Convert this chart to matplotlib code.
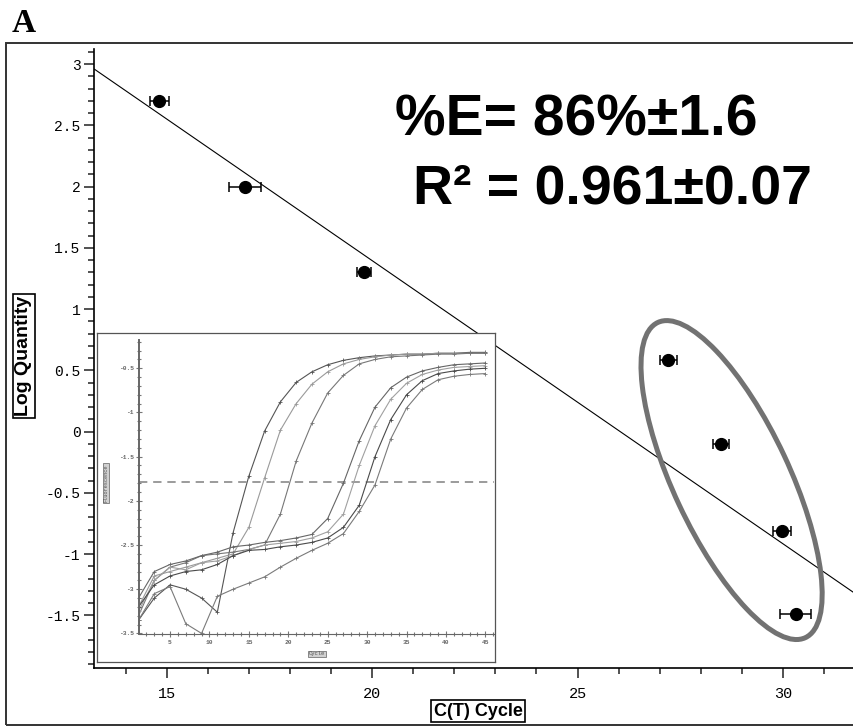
import numpy as np
import matplotlib
matplotlib.use("Agg")
import matplotlib.pyplot as plt
from matplotlib.patches import Ellipse, Rectangle
from matplotlib.transforms import ScaledTranslation
from matplotlib.ticker import MultipleLocator, FuncFormatter

# standard curve points (mean Ct, log quantity, Ct error)
ct_mean = [14.82, 16.91, 19.79, 27.21, 28.49, 29.98, 30.31]
log_qty = [2.70, 2.00, 1.30, 0.58, -0.10, -0.81, -1.49]
ct_err = [0.23, 0.385, 0.17, 0.21, 0.19, 0.21, 0.37]

# fitted line
fit_slope = -0.2311
fit_intercept = 6.017

# outlier group circled on the plot
circle_center = (28.75, -0.396)

# inset amplification curves (log fluorescence at odd cycles)
cycles = np.arange(1, 46, 2)
amp_e1 = [-3.35, -3.10, -2.95, -3.00, -3.10, -3.26, -2.36, -1.72, -1.21, -0.88, -0.66, -0.54,
          -0.46, -0.41, -0.38, -0.36, -0.35, -0.34, -0.34, -0.33, -0.33, -0.32, -0.32]
amp_e2 = [-3.20, -2.85, -2.80, -2.75, -2.70, -2.65, -2.60, -2.30, -1.74, -1.20, -0.90, -0.68,
          -0.54, -0.45, -0.40, -0.37, -0.35, -0.34, -0.34, -0.33, -0.33, -0.33, -0.33]
amp_e3 = [-3.30, -2.90, -2.75, -2.70, -2.62, -2.60, -2.58, -2.55, -2.50, -2.15, -1.55, -1.12,
          -0.78, -0.58, -0.45, -0.40, -0.37, -0.36, -0.35, -0.34, -0.34, -0.33, -0.33]
amp_l1 = [-3.10, -2.80, -2.72, -2.68, -2.62, -2.58, -2.52, -2.50, -2.47, -2.45, -2.42, -2.38,
          -2.20, -1.80, -1.32, -0.94, -0.72, -0.60, -0.53, -0.49, -0.46, -0.45, -0.44]
amp_l2 = [-3.25, -2.90, -2.75, -2.78, -2.70, -2.68, -2.62, -2.55, -2.50, -2.48, -2.46, -2.42,
          -2.35, -2.15, -1.60, -1.15, -0.85, -0.67, -0.57, -0.52, -0.49, -0.48, -0.47]
amp_l3 = [-3.20, -2.95, -2.85, -2.80, -2.78, -2.72, -2.62, -2.56, -2.55, -2.52, -2.50, -2.47,
          -2.42, -2.30, -2.05, -1.50, -1.08, -0.80, -0.64, -0.56, -0.53, -0.51, -0.50]
amp_l4 = [-3.35, -3.05, -2.97, -3.39, -3.50, -3.08, -3.00, -2.93, -2.86, -2.75, -2.65, -2.56,
          -2.48, -2.37, -2.12, -1.82, -1.30, -0.95, -0.74, -0.63, -0.59, -0.57, -0.56]
amp_curves = [amp_e1, amp_e2, amp_e3, amp_l1, amp_l2, amp_l3, amp_l4]
amp_colors = ['#555555', '#9a9a9a', '#777777', '#666666', '#a0a0a0', '#4a4a4a', '#7a7a7a']
threshold = -1.79

W, H = 854, 726
mono = 'Liberation Mono'
narrow = ['Liberation Sans Narrow', 'Liberation Sans']

fig = plt.figure(figsize=(W / 100, H / 100), dpi=100)

# outer frame of the panel
fig.patches.append(Rectangle((6 / W, 1 - 725 / H), 2, (725 - 43) / H, transform=fig.transFigure,
                             fill=False, lw=1.4, ec='#333333', zorder=0))
fig.text(12 / W, 1 - 32 / H, 'A', family='Liberation Serif', weight='bold', fontsize=24,
         va='baseline', ha='left')

# main standard-curve axes
ax = fig.add_axes([94.5 / W, 1 - 668 / H, 1 - 94.5 / W, (668 - 49.3) / H])
ax.set_xlim(13.24, 31.73)
ax.set_ylim(-1.93, 3.12)
for s in ['top', 'right']:
    ax.spines[s].set_visible(False)
for s in ['left', 'bottom']:
    ax.spines[s].set_linewidth(1.2)

ax.xaxis.set_major_locator(MultipleLocator(5))
ax.xaxis.set_minor_locator(MultipleLocator(1))
ax.yaxis.set_major_locator(MultipleLocator(0.5))
ax.yaxis.set_minor_locator(MultipleLocator(0.1))
fmt = FuncFormatter(lambda v, p: ('%g' % v).replace('\u2212', '-'))
ax.xaxis.set_major_formatter(fmt)
ax.yaxis.set_major_formatter(fmt)
ax.tick_params(which='major', length=7, width=1.1, labelsize=10.5, color='#222222')
ax.tick_params(which='minor', length=4.5, width=1.1, color='#222222')
ax.tick_params(axis='x', which='major', pad=7, labelsize=11)
ax.tick_params(axis='y', which='major', pad=3)
for lab in ax.get_xticklabels() + ax.get_yticklabels():
    lab.set_family(mono)

xs = np.array(ax.get_xlim())
ax.plot(xs, fit_intercept + fit_slope * xs, color='black', lw=0.8, zorder=2)
ax.errorbar(ct_mean, log_qty, xerr=ct_err, fmt='o', color='black', ms=8.5,
            elinewidth=1.1, capsize=3.8, capthick=1.1, zorder=3)

trans = fig.dpi_scale_trans + ScaledTranslation(circle_center[0], circle_center[1], ax.transData)
ax.add_patch(Ellipse((0, 0), 3.48, 1.16, angle=-64.9, transform=trans, fill=False,
                     ec='#727272', lw=3.6, zorder=4))

fig.text(395 / W, 1 - 135 / H, '%E= 86%\u00b11.6', family='Liberation Sans', weight='bold',
         fontsize=41, va='baseline', ha='left')
fig.text(413 / W, 1 - 203 / H, 'R\u00b2 = 0.961\u00b10.07', family='Liberation Sans',
         weight='bold', fontsize=40, va='baseline', ha='left')

box_style = dict(boxstyle='square,pad=0.12', fc='white', ec='black', lw=1.2)
fig.text(23.7 / W, 1 - 356 / H, 'Log Quantity', family=narrow, weight='bold', fontsize=14,
         rotation=90, ha='center', va='center', bbox=box_style)
fig.text(478 / W, 1 - 711 / H, 'C(T) Cycle', family=narrow, weight='bold', fontsize=13,
         ha='center', va='center', bbox=box_style)

# inset: amplification plot screenshot
box = fig.add_axes([97 / W, 1 - 662 / H, 398 / W, 329 / H], zorder=3)
box.set_xticks([])
box.set_yticks([])
box.set_facecolor('white')
for s in box.spines.values():
    s.set_color('#555555')
    s.set_linewidth(0.9)

ins = fig.add_axes([139.3 / W, 1 - 634.3 / H, (494 - 139.3) / W, (634.3 - 340) / H], zorder=4)
ins.set_facecolor('none')
ins.set_xlim(1.1, 46.1)
ins.set_ylim(-3.51, -0.18)
ins.spines['top'].set_visible(False)
ins.spines['right'].set_visible(False)
ins.spines['left'].set_color('#666666')
ins.spines['bottom'].set_color('#666666')
ins.spines['left'].set_linewidth(1.4)
ins.xaxis.set_major_locator(MultipleLocator(5))
ins.xaxis.set_minor_locator(MultipleLocator(1))
ins.yaxis.set_major_locator(MultipleLocator(0.5))
ins.yaxis.set_minor_locator(MultipleLocator(0.1))
ins.xaxis.set_major_formatter(fmt)
ins.yaxis.set_major_formatter(fmt)
ins.tick_params(which='both', direction='inout', color='#777777', width=0.8)
ins.tick_params(which='major', length=4, labelsize=4.5, labelcolor='#666666', pad=2)
ins.tick_params(which='minor', length=2.5)
for lab in ins.get_xticklabels() + ins.get_yticklabels():
    lab.set_family(mono)
    lab.set_weight('bold')

ins.axhline(threshold, color='#8a8a8a', lw=1.2, ls=(0, (5, 3.5)), zorder=1)
for vals, col in zip(amp_curves, amp_colors):
    ins.plot(cycles, vals, color=col, lw=0.8, marker='+', ms=3, mew=0.6, zorder=2)

small_box = dict(boxstyle='square,pad=0.15', fc='#d0d0d0', ec='#777777', lw=0.6)
fig.text(106 / W, 1 - 483 / H, 'Fluorescence', fontsize=3.8, rotation=90, color='#555555',
         ha='center', va='center', family=mono, bbox=small_box, zorder=5)
fig.text(316.7 / W, 1 - 654 / H, 'Cycle', fontsize=4, color='#555555', ha='center',
         va='center', family=mono, bbox=small_box, zorder=5)

fig.savefig('out.png', dpi=100)
